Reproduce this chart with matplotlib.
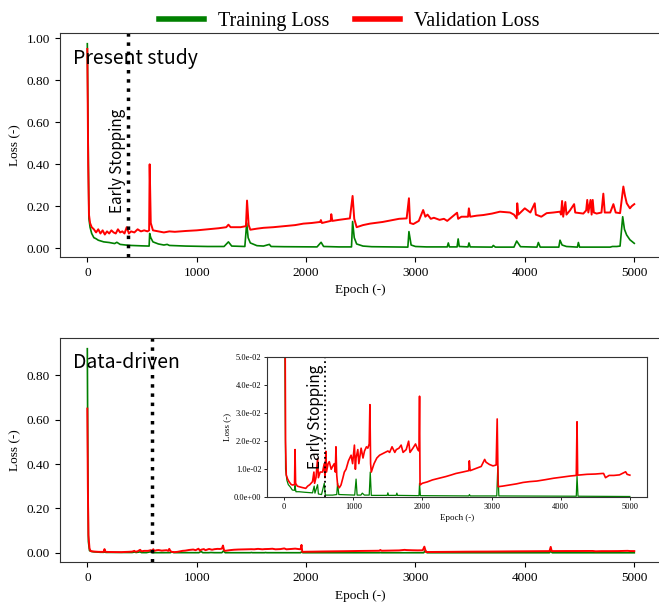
import matplotlib
matplotlib.use("Agg")
import matplotlib.pyplot as plt
from matplotlib.ticker import FormatStrFormatter

plt.rcParams['font.family'] = ['Liberation Serif', 'DejaVu Serif']
plt.rcParams['mathtext.fontset'] = 'stix'

# ---- Present study ----
present_val_epoch = [0, 8, 15, 25, 40, 60, 80, 100, 120, 140, 160, 180, 200, 220, 240, 260, 280, 300,
                     320, 340, 360, 380, 400, 430, 460, 490, 520, 550, 565, 570, 580, 600, 650, 700,
                     750, 800, 900, 1000, 1100, 1200, 1270, 1290, 1310, 1400, 1450, 1460, 1475, 1490,
                     1550, 1610, 1700, 1800, 1900, 1975, 2050, 2128, 2135, 2145, 2225, 2230, 2240,
                     2300, 2400, 2425, 2440, 2462, 2520, 2584, 2700, 2797, 2850, 2919, 2940, 2950,
                     2980, 3030, 3070, 3090, 3110, 3140, 3168, 3220, 3260, 3290, 3380, 3390, 3420,
                     3480, 3488, 3500, 3560, 3620, 3700, 3772, 3864, 3900, 3925, 3930, 3940, 3999,
                     4050, 4090, 4100, 4150, 4199, 4260, 4321, 4330, 4340, 4350, 4370, 4380, 4412,
                     4450, 4460, 4534, 4560, 4570, 4580, 4600, 4610, 4620, 4630, 4656, 4700, 4717,
                     4730, 4780, 4809, 4830, 4870, 4900, 4915, 4931, 4960, 4976, 5000]
present_val = [0.95, 0.40, 0.16, 0.12, 0.10, 0.09, 0.075, 0.09, 0.07, 0.085, 0.065, 0.08, 0.07, 0.085,
               0.075, 0.07, 0.09, 0.075, 0.08, 0.07, 0.10, 0.07, 0.08, 0.075, 0.09, 0.08, 0.085, 0.08,
               0.085, 0.40, 0.12, 0.085, 0.08, 0.075, 0.08, 0.078, 0.082, 0.085, 0.09, 0.095, 0.10,
               0.112, 0.10, 0.10, 0.105, 0.227, 0.11, 0.088, 0.093, 0.097, 0.10, 0.105, 0.11, 0.117,
               0.12, 0.125, 0.134, 0.12, 0.13, 0.162, 0.13, 0.135, 0.142, 0.249, 0.14, 0.10, 0.11,
               0.117, 0.125, 0.135, 0.14, 0.142, 0.238, 0.12, 0.115, 0.13, 0.182, 0.15, 0.16, 0.14,
               0.145, 0.135, 0.14, 0.13, 0.169, 0.14, 0.15, 0.15, 0.19, 0.15, 0.155, 0.158, 0.165,
               0.174, 0.17, 0.16, 0.142, 0.214, 0.16, 0.19, 0.17, 0.214, 0.16, 0.15, 0.167, 0.17,
               0.174, 0.16, 0.225, 0.15, 0.22, 0.16, 0.18, 0.21, 0.17, 0.165, 0.18, 0.23, 0.17, 0.23,
               0.16, 0.23, 0.17, 0.165, 0.17, 0.26, 0.17, 0.17, 0.21, 0.17, 0.167, 0.294, 0.25, 0.214,
               0.19, 0.20, 0.21]

present_train_epoch = [0, 8, 15, 25, 40, 60, 80, 100, 150, 200, 250, 270, 300, 350, 400, 450, 500,
                       565, 570, 580, 600, 650, 700, 730, 750, 800, 900, 1000, 1100, 1250, 1290,
                       1320, 1440, 1457, 1470, 1490, 1550, 1610, 1664, 1680, 1800, 2100, 2137, 2160,
                       2300, 2415, 2425, 2440, 2462, 2520, 2600, 2930, 2940, 2960, 3000, 3100, 3290,
                       3300, 3310, 3380, 3390, 3400, 3480, 3489, 3500, 3700, 3711, 3730, 3900, 3925,
                       3960, 4110, 4123, 4140, 4310, 4321, 4340, 4380, 4480, 4489, 4500, 4780, 4800,
                       4840, 4870, 4894, 4910, 4930, 4960, 5000]
present_train = [0.975, 0.50, 0.14, 0.10, 0.07, 0.05, 0.045, 0.038, 0.03, 0.027, 0.022, 0.028, 0.018,
                 0.015, 0.013, 0.012, 0.011, 0.010, 0.07, 0.05, 0.03, 0.02, 0.015, 0.018, 0.013, 0.012,
                 0.010, 0.009, 0.008, 0.008, 0.03, 0.010, 0.008, 0.12, 0.05, 0.025, 0.012, 0.010,
                 0.018, 0.008, 0.007, 0.006, 0.028, 0.008, 0.006, 0.006, 0.127, 0.05, 0.02, 0.010,
                 0.007, 0.005, 0.079, 0.015, 0.008, 0.006, 0.006, 0.025, 0.006, 0.006, 0.044, 0.008,
                 0.006, 0.025, 0.006, 0.005, 0.013, 0.005, 0.005, 0.034, 0.007, 0.005, 0.027, 0.005,
                 0.005, 0.038, 0.015, 0.008, 0.005, 0.027, 0.005, 0.005, 0.008, 0.008, 0.010, 0.15,
                 0.09, 0.063, 0.04, 0.023]
present_stop = 375

# ---- Data-driven ----
dd_val_epoch = [0, 5, 10, 20, 30, 50, 70, 100, 118, 150, 157, 165, 190, 215, 260, 312, 340, 370, 410,
                430, 440, 460, 483, 495, 520, 555, 580, 590, 603, 612, 635, 652, 680, 700, 725, 740,
                749, 760, 773, 797, 822, 850, 870, 895, 930, 968, 990, 1016, 1030, 1040, 1065, 1080,
                1113, 1140, 1162, 1190, 1210, 1230, 1240, 1250, 1260, 1300, 1340, 1380, 1420, 1460,
                1500, 1525, 1560, 1600, 1622, 1660, 1692, 1720, 1765, 1800, 1820, 1862, 1900, 1934,
                1950, 1958, 1965, 1998, 2070, 2144, 2240, 2338, 2420, 2484, 2580, 2670, 2678, 2690,
                2775, 2850, 2900, 2920, 2969, 3020, 3066, 3081, 3095, 3160, 3260, 3360, 3454, 3551,
                3654, 3780, 3896, 4020, 4139, 4225, 4236, 4245, 4381, 4500, 4600, 4620, 4648, 4700,
                4769, 4850, 4939, 4960, 5000]
dd_val = [0.65, 0.30, 0.08, 0.02, 0.008, 0.0065, 0.0056, 0.0046, 0.0044, 0.0045, 0.017, 0.005, 0.004,
          0.0038, 0.0035, 0.0032, 0.004, 0.0045, 0.0056, 0.009, 0.005, 0.007, 0.0137, 0.007, 0.009,
          0.009, 0.012, 0.007, 0.0164, 0.009, 0.012, 0.0127, 0.010, 0.011, 0.012, 0.009, 0.018,
          0.008, 0.0044, 0.0034, 0.0044, 0.007, 0.009, 0.010, 0.013, 0.015, 0.012, 0.0186, 0.010,
          0.014, 0.017, 0.012, 0.0175, 0.014, 0.0165, 0.018, 0.0175, 0.019, 0.033, 0.012, 0.009,
          0.012, 0.014, 0.015, 0.0155, 0.016, 0.0165, 0.016, 0.018, 0.016, 0.017, 0.0175, 0.0186,
          0.016, 0.017, 0.020, 0.016, 0.0175, 0.019, 0.0169, 0.0165, 0.036, 0.0044, 0.005, 0.0055,
          0.0062, 0.0068, 0.0074, 0.008, 0.0085, 0.009, 0.0095, 0.013, 0.0095, 0.0103, 0.011,
          0.0135, 0.0125, 0.0117, 0.0112, 0.0115, 0.0279, 0.0038, 0.004, 0.0044, 0.0048, 0.0053,
          0.0056, 0.0058, 0.0063, 0.0068, 0.0072, 0.0076, 0.0078, 0.0269, 0.0079, 0.0082, 0.0083,
          0.0085, 0.0085, 0.007, 0.0078, 0.0078, 0.008, 0.0091, 0.0082, 0.0079]

dd_train_epoch = [0, 5, 10, 20, 40, 60, 85, 118, 150, 157, 170, 215, 300, 410, 434, 445, 483, 495, 540,
                  580, 595, 700, 760, 773, 790, 1020, 1040, 1055, 1110, 1130, 1160, 1230, 1245, 1260,
                  1490, 1500, 1510, 1620, 1630, 1640, 1950, 1958, 1970, 2670, 2680, 2690, 3075, 3090,
                  3105, 4225, 4236, 4250, 5000]
dd_train = [0.92, 0.40, 0.05, 0.010, 0.006, 0.0045, 0.0038, 0.0026, 0.0025, 0.0042, 0.002, 0.002,
            0.0018, 0.0016, 0.004, 0.0015, 0.0045, 0.0012, 0.001, 0.005, 0.0008, 0.0008, 0.001, 0.005,
            0.001, 0.0008, 0.0065, 0.0008, 0.0008, 0.0015, 0.0008, 0.0008, 0.009, 0.0007, 0.0007,
            0.0016, 0.0007, 0.0007, 0.0015, 0.0007, 0.0006, 0.005, 0.0006, 0.0005, 0.001, 0.0005,
            0.0005, 0.011, 0.0005, 0.0004, 0.0075, 0.0004, 0.0003]
dd_stop = 590

x_ticks = [0, 1000, 2000, 3000, 4000, 5000]
sans = ['Noto Sans CJK JP', 'DejaVu Sans']

fig = plt.figure(figsize=(6.59, 6.08), dpi=100)
ax1 = fig.add_axes([0.091, 0.577, 0.913, 0.368])
ax2 = fig.add_axes([0.091, 0.075, 0.913, 0.369])
axin = fig.add_axes([0.405, 0.182, 0.577, 0.231])


def style(ax, size):
    ax.tick_params(axis='both', direction='out', labelsize=size, top=False, right=False)
    for sp in ax.spines.values():
        sp.set_color('#333333')


# top panel
ax1.plot(present_train_epoch, present_train, color='green', lw=1.2, label='Training Loss')
ax1.plot(present_val_epoch, present_val, color='red', lw=1.4, label='Validation Loss')
ax1.axvline(present_stop, color='black', ls=':', lw=2.5)
ax1.text(present_stop - 25, 0.17, 'Early Stopping', rotation=90, ha='right', va='bottom',
         fontsize=11, family=sans)
ax1.text(-130, 0.955, 'Present study', ha='left', va='top', fontsize=14, family=sans)
ax1.set_xlim(-250, 5250)
ax1.set_ylim(-0.043, 1.024)
ax1.set_xticks(x_ticks)
ax1.set_yticks([0, 0.2, 0.4, 0.6, 0.8, 1.0])
ax1.yaxis.set_major_formatter(FormatStrFormatter('%.2f'))
ax1.set_xlabel('Epoch (-)', fontsize=9.5)
ax1.set_ylabel('Loss (-)', fontsize=9.5)
style(ax1, 9.5)

# bottom panel
ax2.plot(dd_train_epoch, dd_train, color='green', lw=1.2)
ax2.plot(dd_val_epoch, dd_val, color='red', lw=1.4)
ax2.axvline(dd_stop, color='black', ls=':', lw=2.5)
ax2.text(-130, 0.905, 'Data-driven', ha='left', va='top', fontsize=14, family=sans)
ax2.set_xlim(-250, 5250)
ax2.set_ylim(-0.043, 0.968)
ax2.set_xticks(x_ticks)
ax2.set_yticks([0, 0.2, 0.4, 0.6, 0.8])
ax2.yaxis.set_major_formatter(FormatStrFormatter('%.2f'))
ax2.set_xlabel('Epoch (-)', fontsize=9.5)
ax2.set_ylabel('Loss (-)', fontsize=9.5)
style(ax2, 9.5)

# inset
axin.plot(dd_train_epoch, dd_train, color='green', lw=0.9)
axin.plot(dd_val_epoch, dd_val, color='red', lw=1.2)
axin.axvline(dd_stop, color='black', ls=':', lw=1.3)
axin.text(dd_stop - 15, 0.0101, 'Early Stopping', rotation=90, ha='right', va='bottom',
          fontsize=11, family=sans)
axin.set_xlim(-250, 5250)
axin.set_ylim(0, 0.05)
axin.set_xticks(x_ticks)
axin.set_yticks([0, 0.01, 0.02, 0.03, 0.04, 0.05])
axin.yaxis.set_major_formatter(FormatStrFormatter('%.1e'))
axin.set_xlabel('Epoch (-)', fontsize=6.5, labelpad=2)
axin.set_ylabel('Loss (-)', fontsize=6.5, labelpad=2)
axin.tick_params(length=2.5, width=0.6, pad=1.5)
style(axin, 6)

leg = fig.legend(loc='upper center', bbox_to_anchor=(0.53, 1.01), ncol=2, frameon=False,
                 fontsize=14.5, handlelength=2.2, handletextpad=0.7, columnspacing=1.3)
for line in leg.get_lines():
    line.set_linewidth(4)

fig.savefig('out.png', dpi=100)
